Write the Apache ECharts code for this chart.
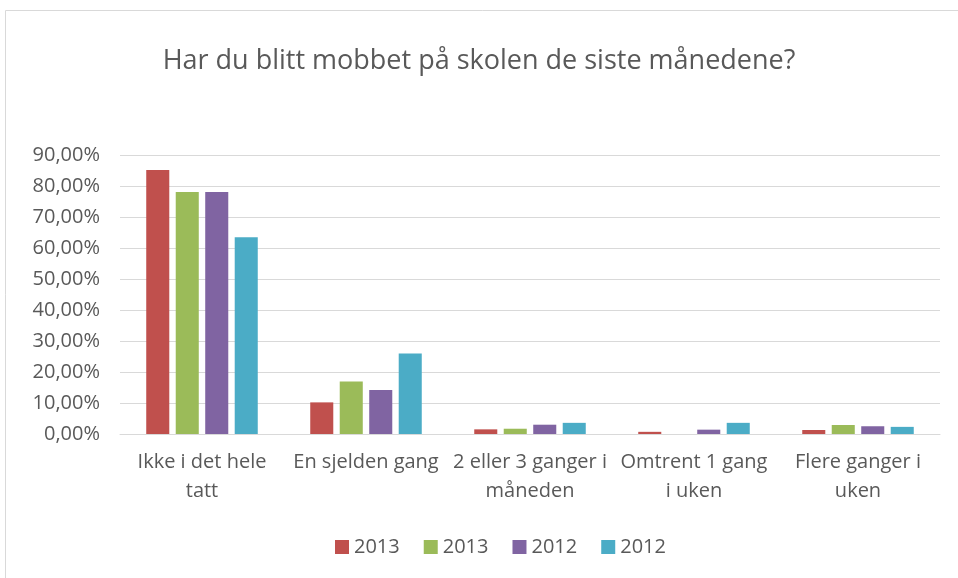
<!DOCTYPE html>
<html>
<head>
<meta charset="utf-8">
<script src="https://cdn.jsdelivr.net/npm/echarts@6/dist/echarts.min.js"></script>
<style>
  html, body { margin: 0; padding: 0; background: #fff; }
  #chart { width: 958px; height: 578px; }
</style>
</head>
<body>
<div id="chart"></div>
<script>
// kategorier og verdier (prosent)
const categories = ["Ikke i det hele\ntatt", "En sjelden gang", "2 eller 3 ganger i\nmåneden", "Omtrent 1 gang\ni uken", "Flere ganger i\nuken"];
const seriesNames = ["2013", "2013", "2012", "2012"];
const red2013 = [85.2, 10.2, 1.5, 0.7, 1.3];
const green2013 = [78.1, 16.9, 1.7, 0, 2.9];
const purple2012 = [78.1, 14.2, 3.0, 1.4, 2.5];
const cyan2012 = [63.5, 26.0, 3.6, 3.6, 2.3];
const colors = ["#C0504D", "#9BBB59", "#8064A2", "#4BACC6"];

const font = "'Open Sans', 'Noto Sans', sans-serif";
const chart = echarts.init(document.getElementById("chart"));

const data = [red2013, green2013, purple2012, cyan2012];

chart.setOption({
  animation: false,
  color: colors,
  textStyle: { fontFamily: font },
  title: {
    text: "Har du blitt mobbet på skolen de siste månedene?",
    left: "center",
    top: 43,
    textStyle: { fontSize: 27, fontWeight: "normal", color: "#595959", fontFamily: font }
  },
  graphic: [{
    type: "rect",
    shape: { x: 5.5, y: 10.5, width: 1000, height: 1000 },
    style: { fill: "none", stroke: "#d9d9d9", lineWidth: 1 },
    silent: true
  }],
  legend: {
    bottom: 16,
    left: 330,
    itemWidth: 14,
    itemHeight: 14,
    itemGap: 24,
    icon: "rect",
    textStyle: { fontSize: 20, color: "#595959", fontFamily: font },
    data: [0, 1, 2, 3].map(i => ({ name: "s" + i }) ),
    formatter: name => seriesNames[+name.slice(1)]
  },
  grid: { left: 120, right: 18, top: 155, bottom: 144 },
  xAxis: {
    type: "category",
    data: categories,
    axisTick: { show: false },
    axisLine: { lineStyle: { color: "#d9d9d9" } },
    axisLabel: { interval: 0, color: "#595959", fontSize: 20, lineHeight: 29, margin: 14, fontFamily: font }
  },
  yAxis: {
    type: "value",
    min: 0,
    max: 90,
    interval: 10,
    axisLabel: {
      color: "#595959", fontSize: 20, margin: 20, fontFamily: font,
      formatter: v => v.toFixed(2).replace(".", ",") + "%"
    },
    splitLine: { lineStyle: { color: "#d9d9d9" } }
  },
  series: data.map((d, i) => ({
    name: "s" + i,
    type: "bar",
    data: d,
    barGap: "28%",
    barCategoryGap: "32%",
    itemStyle: { color: colors[i] }
  }))
});
</script>
</body>
</html>
